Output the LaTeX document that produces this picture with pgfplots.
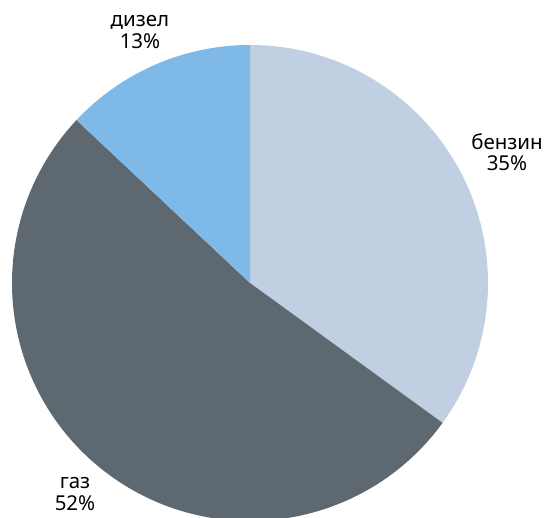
\documentclass[border=0pt]{standalone}
\usepackage{pgfplots}
\pgfplotsset{compat=1.18}
\usepackage{fontspec}
\setmainfont{Noto Sans}
\definecolor{benzin}{HTML}{C0CFE2}
\definecolor{gaz}{HTML}{5E6870}
\definecolor{dizel}{HTML}{7EB9E8}
\begin{document}
\begin{tikzpicture}
\begin{axis}[
  scale only axis,
  width=544pt, height=518pt,
  xmin=0, xmax=544, ymin=0, ymax=518,
  hide axis, clip=true,
]
% shares: бензин 35, газ 52, дизел 13 (clockwise from the top)
\fill[benzin] (axis cs:250,235) -- ++(90:238pt)
  arc[start angle=90, delta angle={-3.6*35}, radius=238pt] -- cycle;
\fill[gaz] (axis cs:250,235) -- ++({90-3.6*35}:238pt)
  arc[start angle={90-3.6*35}, delta angle={-3.6*52}, radius=238pt] -- cycle;
\fill[dizel] (axis cs:250,235) -- ++({90-3.6*87}:238pt)
  arc[start angle={90-3.6*87}, delta angle={-3.6*13}, radius=238pt] -- cycle;
\node[align=center, font=\fontsize{20.5}{21.5}\selectfont] at (axis cs:140,486) {дизел\\13\%};
\node[align=center, font=\fontsize{20.5}{21.5}\selectfont] at (axis cs:507,366) {бензин\\35\%};
\node[align=center, font=\fontsize{20.5}{21.5}\selectfont] at (axis cs:75,24) {газ\\52\%};
\end{axis}
\pgfresetboundingbox
\useasboundingbox (current axis.south west) rectangle (current axis.north east);
\end{tikzpicture}
\end{document}
